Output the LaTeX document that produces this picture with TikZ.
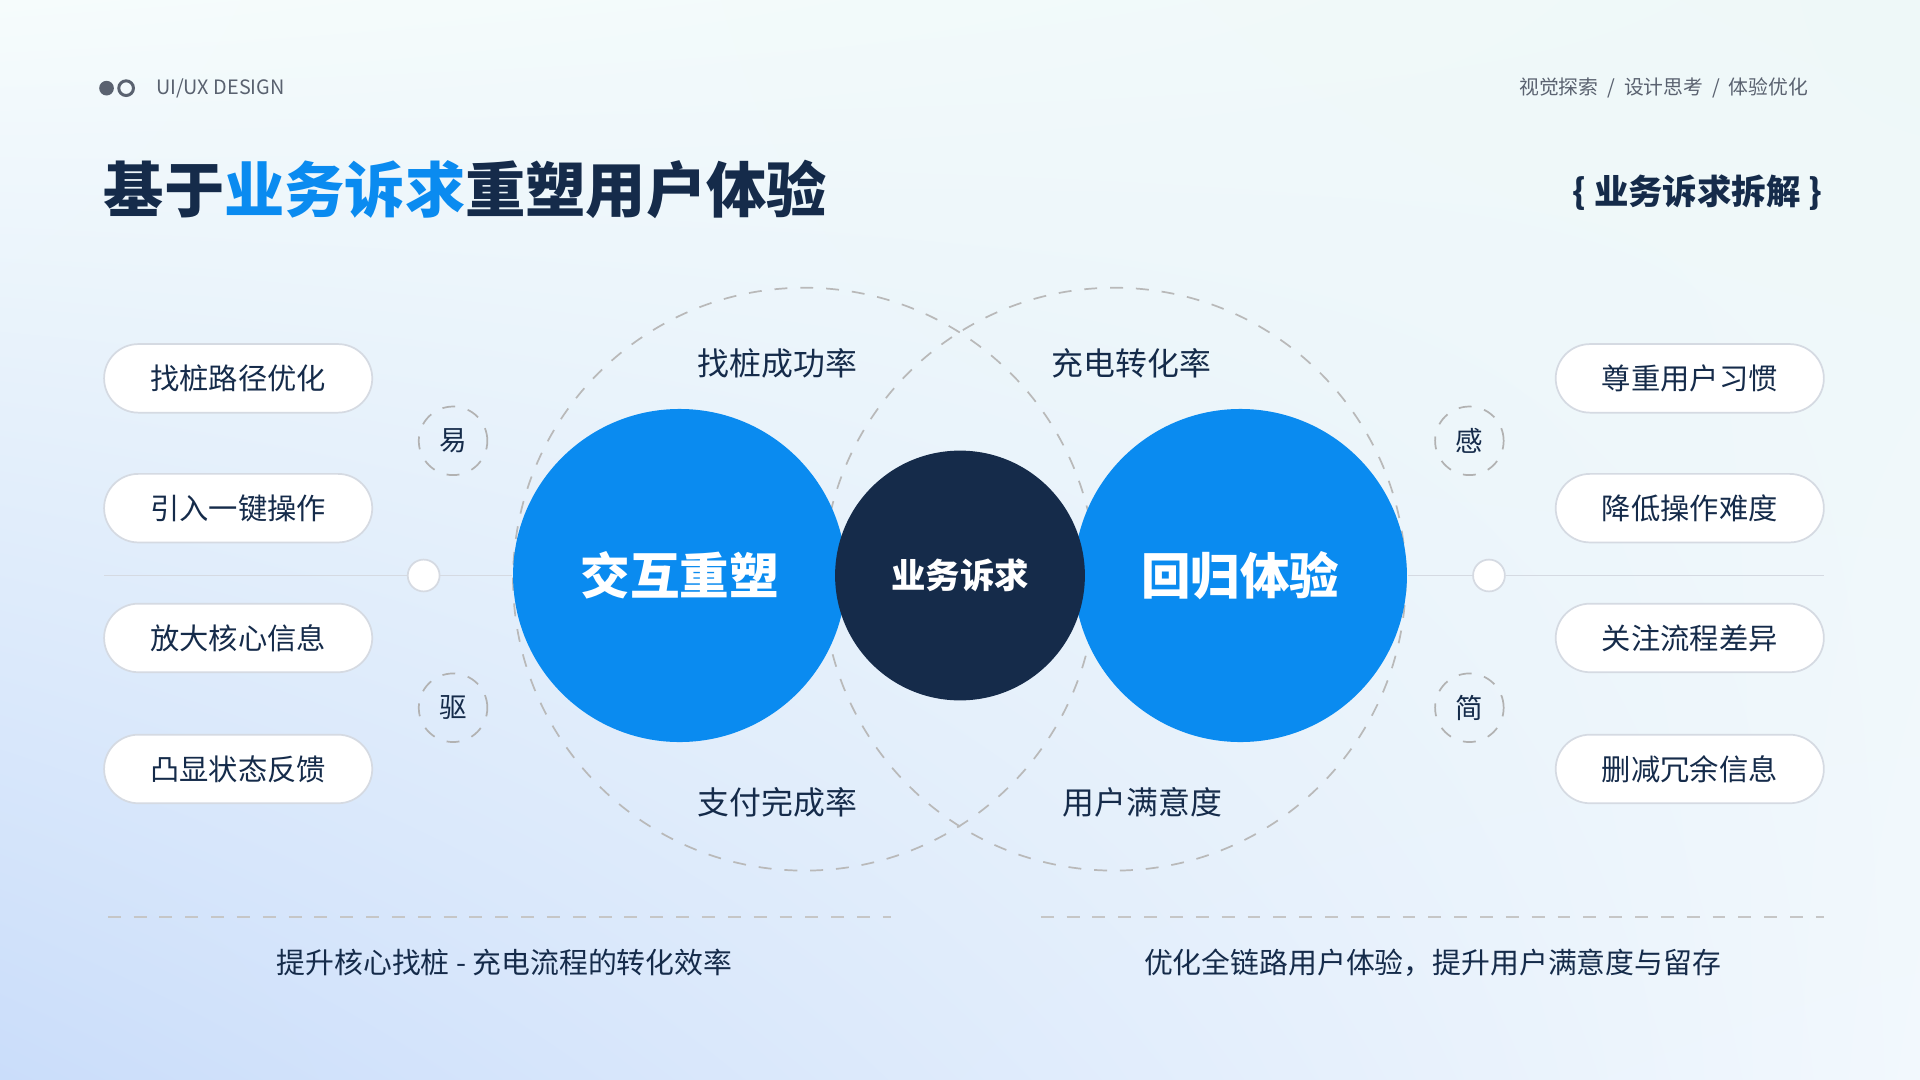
\documentclass[tikz,border=0pt]{standalone}
\usepackage{fontspec}
\usetikzlibrary{shadings}
\setmainfont{Noto Sans CJK SC}
\definecolor{navy}{HTML}{152B4A}
\definecolor{bblue}{HTML}{0A8BF0}
\definecolor{gtxt}{HTML}{5A6270}
\definecolor{pillb}{HTML}{D5DAE2}
\definecolor{cUL}{HTML}{F6FCFC}
\definecolor{cUR}{HTML}{EEF8F8}
\definecolor{cLL}{HTML}{CADDFA}
\definecolor{cLR}{HTML}{F2F8FD}
\newcommand{\fs}[1]{\fontsize{#1pt}{#1pt}\selectfont}
\begin{document}
\begin{tikzpicture}[x=0.01cm,y=-0.01cm,
  pill/.style={draw=pillb,fill=white,rounded corners=28*0.01cm,minimum width=219*0.01cm,minimum height=56*0.01cm,text=navy,font=\fs{6.8},inner sep=0},
  dcirc/.style={draw=gray!60,dashed,circle,minimum size=56*0.01cm,text=navy,font=\fs{6.4},inner sep=0},
  dotc/.style={draw=pillb,fill=white,circle,minimum size=26*0.01cm,inner sep=0},
  lab/.style={text=navy,font=\fs{7.4}},
  bigc/.style={circle,fill=bblue,minimum size=272*0.01cm,inner sep=0,text=white,font=\bfseries\fs{11.5}},
  sep/.style={draw=gray!45,dashed,line width=0.5pt}]
\useasboundingbox (0,0) rectangle (1568,882);
\shade[upper left=cUL,upper right=cUR,lower left=cLL,lower right=cLR] (0,0) rectangle (1568,882);
% header
\fill[gtxt] (87,72) circle (6);
\draw[gtxt,line width=0.7pt] (103,72) circle (6);
\node[anchor=west,text=gtxt,font=\fs{4.6}] (brand) at (115,72) {UI/UX DESIGN};
\node[anchor=east,text=gtxt,font=\fs{4.6}] (crumb) at (1489,72) {视觉探索 \ / \ 设计思考 \ / \ 体验优化};
\node[anchor=west,text=navy,font=\bfseries\fs{14},inner sep=0] (title) at (84,155) {基于\textcolor{bblue}{业务诉求}重塑用户体验};
\node[anchor=east,text=navy,font=\bfseries\fs{8},inner sep=0] (tag) at (1489,157) {\{ 业务诉求拆解 \}};
% axis lines
\coordinate (la) at (85,470); \coordinate (ra) at (1490,470);
\node[dotc] (ld) at (346,470) {};
\node[dotc] (rd) at (1216,470) {};
% dashed big circles
\draw[gray!55,dashed] (657,473) circle (238);
\draw[gray!55,dashed] (910,473) circle (238);
\node[bigc] (L) at (555,470) {交互重塑};
\node[bigc] (R) at (1013,470) {回归体验};
\node[circle,fill=navy,minimum size=204*0.01cm,inner sep=0,text=white,font=\bfseries\fs{8}] (C) at (784,470) {业务诉求};
\draw[pillb] (la) -- (ld) -- (L);
\draw[pillb] (R) -- (rd) -- (ra);
\node[lab] (l1) at (635,297) {找桩成功率};
\node[lab] (l2) at (924,297) {充电转化率};
\node[lab] (l3) at (635,655) {支付完成率};
\node[lab] (l4) at (933,655) {用户满意度};
\node[dcirc] (y1) at (370,360) {易};
\node[dcirc] (y2) at (370,578) {驱};
\node[dcirc] (y3) at (1200,360) {感};
\node[dcirc] (y4) at (1200,578) {简};
\node[pill] (p1) at (194.5,309) {找桩路径优化};
\node[pill] (p2) at (194.5,415) {引入一键操作};
\node[pill] (p3) at (194.5,521) {放大核心信息};
\node[pill] (p4) at (194.5,628) {凸显状态反馈};
\node[pill] (q1) at (1380,309) {尊重用户习惯};
\node[pill] (q2) at (1380,415) {降低操作难度};
\node[pill] (q3) at (1380,521) {关注流程差异};
\node[pill] (q4) at (1380,628) {删减冗余信息};
\draw[sep] (88,749) -- (728,749);
\draw[sep] (850,749) -- (1490,749);
\node[text=navy,font=\fs{6.7}] (b1) at (412,786) {提升核心找桩 - 充电流程的转化效率};
\node[text=navy,font=\fs{6.7}] (b2) at (1170,786) {优化全链路用户体验，提升用户满意度与留存};
\end{tikzpicture}
\end{document}
